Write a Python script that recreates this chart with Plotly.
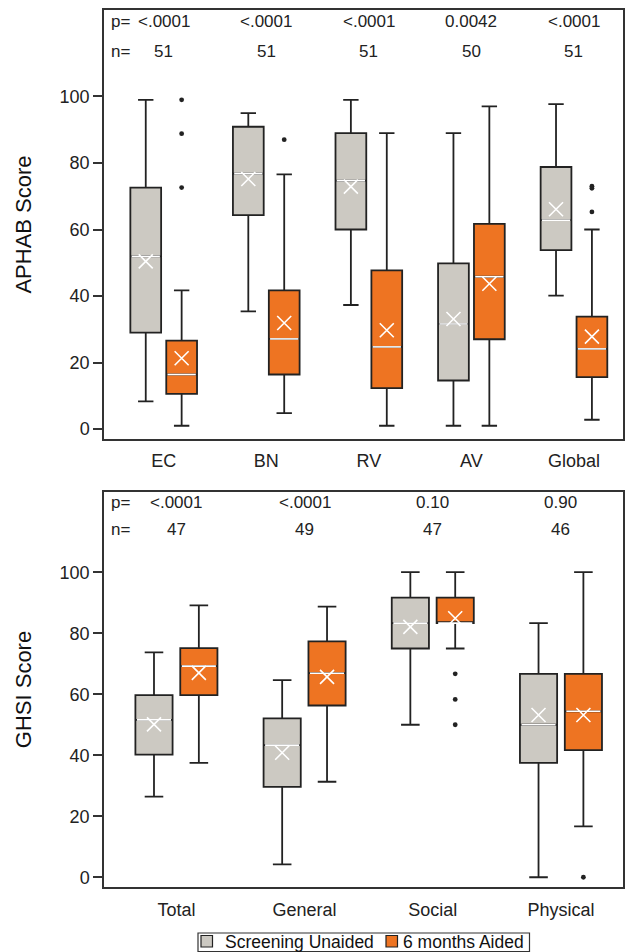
import plotly.graph_objects as go
from plotly.subplots import make_subplots

# ---------------- data ----------------
aphab_cats = ["EC", "BN", "RV", "AV", "Global"]
aphab_p = ["<.0001", "<.0001", "<.0001", "0.0042", "<.0001"]
aphab_n = ["51", "51", "51", "50", "51"]

aphab_un_low = [8.3, 35.4, 37.3, 1.0, 40.1]
aphab_un_q1 = [29.0, 64.3, 60.0, 14.6, 53.8]
aphab_un_med = [51.9, 76.8, 74.7, 31.6, 62.8]
aphab_un_q3 = [72.6, 90.9, 89.0, 49.8, 78.8]
aphab_un_high = [99.0, 95.0, 99.0, 89.0, 97.7]
aphab_un_mean = [50.4, 75.2, 72.9, 33.1, 66.1]
aphab_un_out = [[], [], [], [], []]

aphab_ai_low = [1.0, 4.8, 1.0, 1.0, 2.8]
aphab_ai_q1 = [10.6, 16.4, 12.3, 27.0, 15.6]
aphab_ai_med = [16.4, 27.1, 24.7, 45.8, 24.1]
aphab_ai_q3 = [26.6, 41.7, 47.7, 61.7, 33.8]
aphab_ai_high = [41.7, 76.6, 89.0, 97.0, 60.0]
aphab_ai_mean = [21.3, 31.9, 29.7, 43.7, 27.8]
aphab_ai_out = [[99.0, 88.8, 72.6], [87.0], [], [], [73.0, 72.4, 65.3]]

ghsi_cats = ["Total", "General", "Social", "Physical"]
ghsi_p = ["<.0001", "<.0001", "0.10", "0.90"]
ghsi_n = ["47", "49", "47", "46"]

ghsi_un_low = [26.4, 4.2, 50.0, 0.0]
ghsi_un_q1 = [40.2, 29.6, 75.0, 37.5]
ghsi_un_med = [51.6, 43.3, 83.3, 50.0]
ghsi_un_q3 = [59.7, 52.1, 91.7, 66.7]
ghsi_un_high = [73.7, 64.6, 100.0, 83.3]
ghsi_un_mean = [50.1, 40.8, 82.1, 53.2]
ghsi_un_out = [[], [], [], []]

ghsi_ai_low = [37.5, 31.3, 75.0, 16.7]
ghsi_ai_q1 = [59.7, 56.3, 83.3, 41.7]
ghsi_ai_med = [69.2, 66.9, 83.3, 54.4]
ghsi_ai_q3 = [75.1, 77.3, 91.7, 66.7]
ghsi_ai_high = [89.1, 88.7, 100.0, 100.0]
ghsi_ai_mean = [67.0, 65.7, 84.9, 53.2]
ghsi_ai_out = [[], [], [66.7, 58.3, 50.0], [0.0]]

y_ticks = [0, 20, 40, 60, 80, 100]
series_names = ["Screening Unaided", "6 months Aided"]

# ---------------- style ----------------
FONT = "Liberation Sans, Arial, sans-serif"
GRAY = "#CCC9C2"
ORANGE = "#EE7422"
EDGE = "#222222"
FRAME = "#333333"
OFF = 0.175

fig = make_subplots(rows=2, cols=1, vertical_spacing=0.06)


def add_panel(row, cats, series, width):
    idx = list(range(len(cats)))
    for k, (name, color, sign, low, q1, med, q3, high, mean, out) in enumerate(series):
        xs = [i + sign * OFF for i in idx]
        fig.add_trace(go.Box(
            x=xs, q1=q1, median=med, q3=q3, lowerfence=low, upperfence=high,
            width=width, whiskerwidth=0.5, fillcolor=color,
            line=dict(color=EDGE, width=1.8), boxpoints=False,
            name=name, showlegend=False, hoverinfo="skip"), row=row, col=1)
        # white median line
        mx, my = [], []
        half = width / 2 - 0.012
        for x, m in zip(xs, med):
            mx += [x - half, x + half, None]
            my += [m, m, None]
        fig.add_trace(go.Scatter(x=mx, y=my, mode="lines",
                                 line=dict(color="white", width=1.6),
                                 showlegend=False, hoverinfo="skip"), row=row, col=1)
        # mean X
        fig.add_trace(go.Scatter(x=xs, y=mean, mode="markers",
                                 marker=dict(symbol="x-thin-open", size=14, color="white",
                                             line=dict(color="white", width=1.6)),
                                 showlegend=False, hoverinfo="skip"), row=row, col=1)
        # outliers
        ox, oy = [], []
        for x, o in zip(xs, out):
            for v in o:
                ox.append(x)
                oy.append(v)
        if ox:
            fig.add_trace(go.Scatter(x=ox, y=oy, mode="markers",
                                     marker=dict(symbol="circle", size=4.8, color=EDGE),
                                     showlegend=False, hoverinfo="skip"), row=row, col=1)


add_panel(1, aphab_cats, [
    (series_names[0], GRAY, -1, aphab_un_low, aphab_un_q1, aphab_un_med, aphab_un_q3,
     aphab_un_high, aphab_un_mean, aphab_un_out),
    (series_names[1], ORANGE, 1, aphab_ai_low, aphab_ai_q1, aphab_ai_med, aphab_ai_q3,
     aphab_ai_high, aphab_ai_mean, aphab_ai_out),
], 0.30)

add_panel(2, ghsi_cats, [
    (series_names[0], GRAY, -1, ghsi_un_low, ghsi_un_q1, ghsi_un_med, ghsi_un_q3,
     ghsi_un_high, ghsi_un_mean, ghsi_un_out),
    (series_names[1], ORANGE, 1, ghsi_ai_low, ghsi_ai_q1, ghsi_ai_med, ghsi_ai_q3,
     ghsi_ai_high, ghsi_ai_mean, ghsi_ai_out),
], 0.29)

axis_common = dict(showgrid=False, zeroline=False, showline=True, mirror=True,
                   linecolor=FRAME, linewidth=1.5,
                   tickfont=dict(family=FONT, size=18, color="#222"))

fig.update_xaxes(axis_common)
fig.update_yaxes(axis_common)

fig.update_xaxes(row=1, col=1, range=[-0.582, 4.478], tickmode="array",
                 tickvals=list(range(len(aphab_cats))), ticktext=aphab_cats, ticks="",
                 ticklabelstandoff=5, domain=[0, 1])
fig.update_xaxes(row=2, col=1, range=[-0.565, 3.484], tickmode="array",
                 tickvals=list(range(len(ghsi_cats))), ticktext=ghsi_cats, ticks="",
                 ticklabelstandoff=6, domain=[0, 1])
fig.update_yaxes(row=1, col=1, range=[-3, 126], tickvals=y_ticks, ticks="outside",
                 ticklen=9, tickwidth=1.5, tickcolor=FRAME, domain=[0.5108, 1.0],
                 title=dict(text="APHAB Score", font=dict(family=FONT, size=22, color="#111"),
                            standoff=22))
fig.update_yaxes(row=2, col=1, range=[-3.2, 126.3], tickvals=y_ticks, ticks="outside",
                 ticklen=9, tickwidth=1.5, tickcolor=FRAME, domain=[0.0, 0.4504],
                 title=dict(text="GHSI Score", font=dict(family=FONT, size=22, color="#111"),
                            standoff=22))

# p= / n= annotations
ann_font = dict(family=FONT, size=17, color="#222")
for xr, yr, cats, pv, nv, nshift in [("x", "y", aphab_cats, aphab_p, aphab_n, -41),
                                      ("x2", "y2", ghsi_cats, ghsi_p, ghsi_n, -38)]:
    fig.add_annotation(xref=xr + " domain", yref=yr + " domain", x=0, y=1,
                       xanchor="left", yanchor="middle", xshift=5, yshift=-11,
                       text="p=", showarrow=False, font=ann_font)
    fig.add_annotation(xref=xr + " domain", yref=yr + " domain", x=0, y=1,
                       xanchor="left", yanchor="middle", xshift=5, yshift=nshift,
                       text="n=", showarrow=False, font=ann_font)
    for i, (p, n) in enumerate(zip(pv, nv)):
        fig.add_annotation(xref=xr, yref=yr + " domain", x=i, y=1,
                           xanchor="center", yanchor="middle", yshift=-11,
                           text=p, showarrow=False, font=ann_font)
        fig.add_annotation(xref=xr, yref=yr + " domain", x=i, y=1,
                           xanchor="center", yanchor="middle", yshift=nshift,
                           text=n, showarrow=False, font=ann_font)

# ---------------- legend (drawn as shapes + text, paper coords) ----------------
PW, PH = 519.0, 877.0          # plot-area size in px
def px_x(dx):                  # px offset from plot left -> paper x
    return dx / PW
def px_y(dy):                  # px offset below plot bottom -> paper y
    return -dy / PH

fig.add_shape(type="rect", xref="paper", yref="paper",
              x0=px_x(94), x1=px_x(425.5), y0=px_y(46), y1=px_y(64.5),
              line=dict(color=FRAME, width=1.2), fillcolor="white")
legend_items = [(series_names[0], GRAY, 97, 120), (series_names[1], ORANGE, 282, 298)]
for name, color, sq_x, tx in legend_items:
    fig.add_shape(type="rect", xref="paper", yref="paper",
                  x0=px_x(sq_x), x1=px_x(sq_x + 11.5), y0=px_y(48.5), y1=px_y(60),
                  line=dict(color=EDGE, width=1.2), fillcolor=color)
    fig.add_annotation(xref="paper", yref="paper", x=px_x(tx), y=px_y(54.5),
                       xanchor="left", yanchor="middle", text=name, showarrow=False,
                       font=dict(family=FONT, size=17.5, color="#111"), borderpad=0)

fig.update_layout(
    width=627, height=944,
    margin=dict(l=96, r=12, t=2, b=65, autoexpand=False),
    paper_bgcolor="white", plot_bgcolor="white",
    boxmode="overlay", showlegend=False,
    font=dict(family=FONT, size=18, color="#222"),
)

fig.write_html("out.html")
